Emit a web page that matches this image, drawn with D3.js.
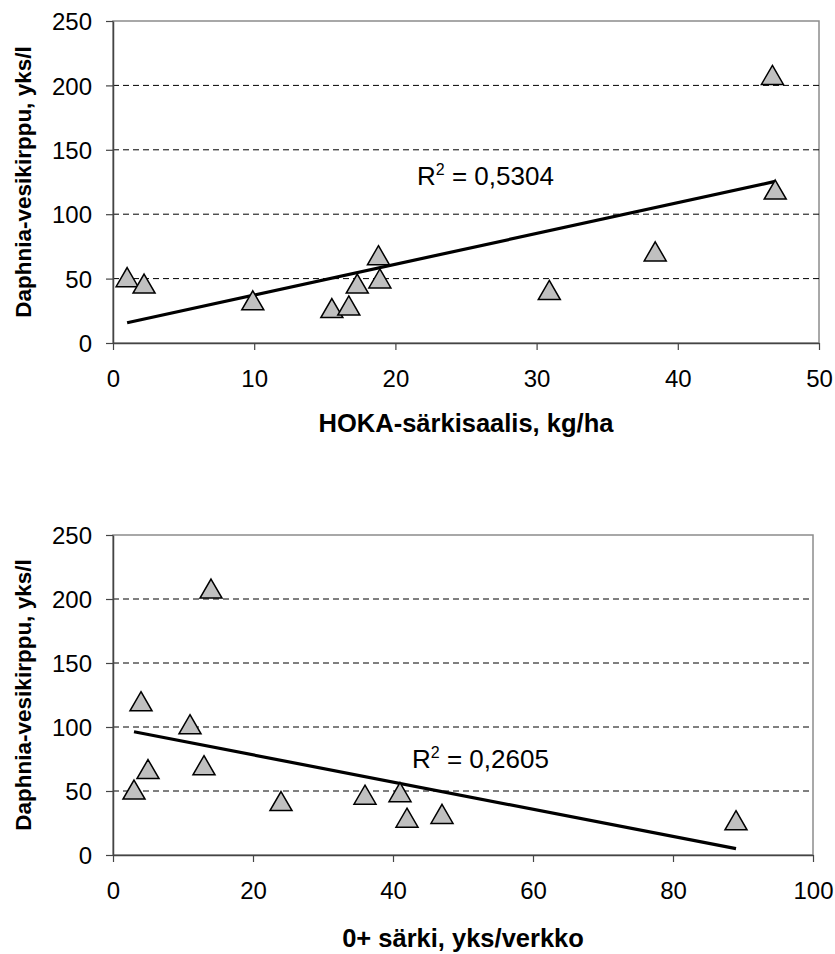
<!DOCTYPE html>
<html>
<head>
<meta charset="utf-8">
<script src="https://cdn.jsdelivr.net/npm/d3@7"></script>
<style>
  body { margin: 0; background: #fff; }
  svg text { font-family: "Liberation Sans", Arial, sans-serif; }
</style>
</head>
<body>
<script>
// top chart: HOKA catch vs Daphnia
var hokaX = [1, 2.2, 9.9, 15.5, 16.7, 17.3, 18.8, 18.9, 30.9, 38.4, 46.7, 46.9],
    hokaY = [51, 46, 33, 27, 29, 46, 68, 50, 41, 71, 208, 119],
    hokaTicksX = [0, 10, 20, 30, 40, 50],
    hokaR2 = "0,5304";

// bottom chart: 0+ roach per net vs Daphnia
var roachX = [3, 4, 5, 11, 13, 14, 24, 36, 41, 42, 47, 89],
    roachY = [51, 120, 67, 102, 70, 208, 42, 47, 49, 29, 32, 27],
    roachTicksX = [0, 20, 40, 60, 80, 100],
    roachR2 = "0,2605";

var ticksY = [0, 50, 100, 150, 200, 250],
    yTitle = "Daphnia-vesikirppu, yks/l";

(function() {

  var svg = d3.select("body").append("svg")
      .attr("width", 835)
      .attr("height", 954);

  function fit(xs, ys) {
    var mx = d3.mean(xs), my = d3.mean(ys), sxy = 0, sxx = 0;
    xs.forEach(function(x, i) {
      sxy += (x - mx) * (ys[i] - my);
      sxx += (x - mx) * (x - mx);
    });
    var b = sxy / sxx;
    return function(x) { return my + b * (x - mx); };
  }

  function chart(o) {
    var x = d3.scaleLinear().domain(d3.extent(o.ticksX)).range([o.left, o.right]),
        y = d3.scaleLinear().domain([0, 250]).range([o.bottom, o.top]),
        g = svg.append("g");

    // plot frame (light gray top/right)
    g.append("rect")
      .attr("x", o.left).attr("y", o.top)
      .attr("width", o.right - o.left).attr("height", o.bottom - o.top)
      .attr("fill", "none").attr("stroke", "#8c8c8c").attr("stroke-width", 1.5);

    // dashed grid
    g.selectAll("line.grid")
      .data(ticksY.filter(function(d) { return d > 0 && d < 250; }))
      .enter().append("line")
        .attr("class", "grid")
        .attr("x1", o.left).attr("x2", o.right)
        .attr("y1", function(d) { return y(d); })
        .attr("y2", function(d) { return y(d); })
        .attr("stroke", "#000").attr("stroke-width", 1)
        .attr("stroke-dasharray", "6,4");

    var ax = g.append("g")
      .attr("transform", "translate(0," + o.bottom + ")")
      .call(d3.axisBottom(x).tickValues(o.ticksX).tickSize(7).tickSizeOuter(0).tickPadding(20));
    var ay = g.append("g")
      .attr("transform", "translate(" + o.left + ",0)")
      .call(d3.axisLeft(y).tickValues(ticksY).tickSize(7).tickSizeOuter(0).tickPadding(14));

    [ax, ay].forEach(function(a) {
      a.select(".domain").attr("stroke", "#444").attr("stroke-width", 1.5);
      a.selectAll(".tick line").attr("stroke", "#444").attr("stroke-width", 1.2);
      a.selectAll("text")
        .attr("fill", "#000")
        .style("font-size", "24px");
    });
    ay.selectAll("text").attr("dy", "0.36em");

    // trend line
    var f = fit(o.xs, o.ys),
        ext = d3.extent(o.xs);
    g.append("line")
      .attr("x1", x(ext[0])).attr("y1", y(f(ext[0])))
      .attr("x2", x(ext[1])).attr("y2", y(f(ext[1])))
      .attr("stroke", "#000").attr("stroke-width", 3.2);

    // markers
    var tri = d3.symbol().type(d3.symbolTriangle).size(210);
    g.selectAll("path.pt")
      .data(o.xs.map(function(d, i) { return [d, o.ys[i]]; }))
      .enter().append("path")
        .attr("class", "pt")
        .attr("d", tri)
        .attr("transform", function(d) {
          return "translate(" + x(d[0]) + "," + (y(d[1]) + 3) + ")";
        })
        .attr("fill", "#c0c0c0").attr("stroke", "#000").attr("stroke-width", 1.5);

    // r squared label
    var lab = g.append("text")
      .attr("x", o.labX).attr("y", o.labY)
      .style("font-size", "26px");
    lab.append("tspan").text("R");
    lab.append("tspan").attr("dy", -10).style("font-size", "16px").text("2");
    lab.append("tspan").attr("dy", 10).text(" = " + o.r2);

    // axis titles
    g.append("text")
      .attr("x", (o.left + o.right) / 2).attr("y", o.titleY)
      .attr("text-anchor", "middle")
      .style("font-size", "25.5px").style("font-weight", "bold")
      .text(o.xTitle);
    g.append("text")
      .attr("transform", "translate(31," + ((o.top + o.bottom) / 2) + ") rotate(-90)")
      .attr("text-anchor", "middle")
      .style("font-size", "22.5px").style("font-weight", "bold")
      .text(yTitle);
  }

  /* main */
  chart({ xs: hokaX, ys: hokaY, ticksX: hokaTicksX, r2: hokaR2,
          xTitle: "HOKA-särkisaalis, kg/ha", titleY: 432,
          left: 113, right: 819, top: 21, bottom: 343, labX: 417, labY: 185 });
  chart({ xs: roachX, ys: roachY, ticksX: roachTicksX, r2: roachR2,
          xTitle: "0+ särki, yks/verkko", titleY: 947,
          left: 113, right: 813, top: 535, bottom: 855, labX: 412, labY: 768 });

}());
</script>
</body>
</html>
